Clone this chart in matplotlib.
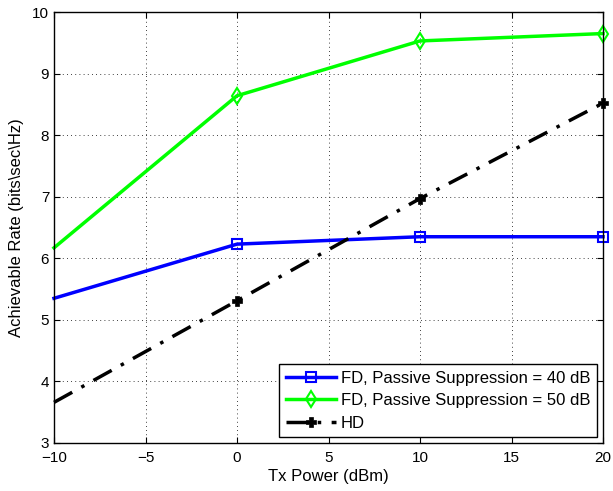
import numpy as np
import matplotlib.pyplot as plt

plt.rcParams['font.family'] = ['Liberation Sans', 'DejaVu Sans']

# data
tx_power = [-10, 0, 10, 20]
fd_40 = [5.35, 6.23, 6.35, 6.35]
fd_50 = [6.17, 8.64, 9.53, 9.65]
hd = [3.66, 5.31, 6.97, 8.52]

fig = plt.figure(figsize=(6.13, 4.91), dpi=100)
ax = fig.add_axes([54 / 613, 1 - 443 / 491, 549 / 613, 431 / 491])

# markers only at the sampled points 0, 10, 20 (none drawn at -10)
mk = [1, 2, 3]
ax.plot(tx_power, fd_40, color='#0000ff', lw=2.5, marker='s', ms=7,
        mfc='none', mec='#0000ff', mew=1.5, markevery=mk, clip_on=False,
        label='FD, Passive Suppression = 40 dB')
ax.plot(tx_power, fd_50, color='#00ff00', lw=2.5, marker='d', ms=8,
        mfc='none', mec='#00ff00', mew=1.5, markevery=mk, clip_on=False,
        label='FD, Passive Suppression = 50 dB')
ax.plot(tx_power, hd, color='black', lw=2.5, ls=(0, (6, 3, 1, 3)),
        marker='P', ms=7, mfc='black', mec='black', mew=0.5,
        markevery=mk, clip_on=False, label='HD')

ax.set_xlim(-10, 20)
ax.set_ylim(3, 10)
ax.set_xticks(np.arange(-10, 21, 5))
ax.set_yticks(np.arange(3, 11, 1))
ax.set_xticklabels(['\u221210', '\u22125', '0', '5', '10', '15', '20'])
ax.tick_params(direction='in', top=True, right=True, labelsize=11, length=4)
ax.tick_params(axis='x', pad=6)
ax.grid(True, color='black', ls=(0, (1, 4)), lw=0.6)
for s in ax.spines.values():
    s.set_linewidth(1.0)

ax.set_xlabel('Tx Power (dBm)', fontsize=12, labelpad=3)
ax.set_ylabel('Achievable Rate (bits\\sec\\Hz)', fontsize=12, labelpad=6)

leg = ax.legend(loc='lower right', fontsize=12, fancybox=False, framealpha=1,
                edgecolor='black', borderaxespad=0.35, handlelength=3.0,
                handletextpad=0.3, borderpad=0.4, labelspacing=0.45)
leg.get_frame().set_linewidth(1.0)

fig.savefig('out.png', dpi=100)
